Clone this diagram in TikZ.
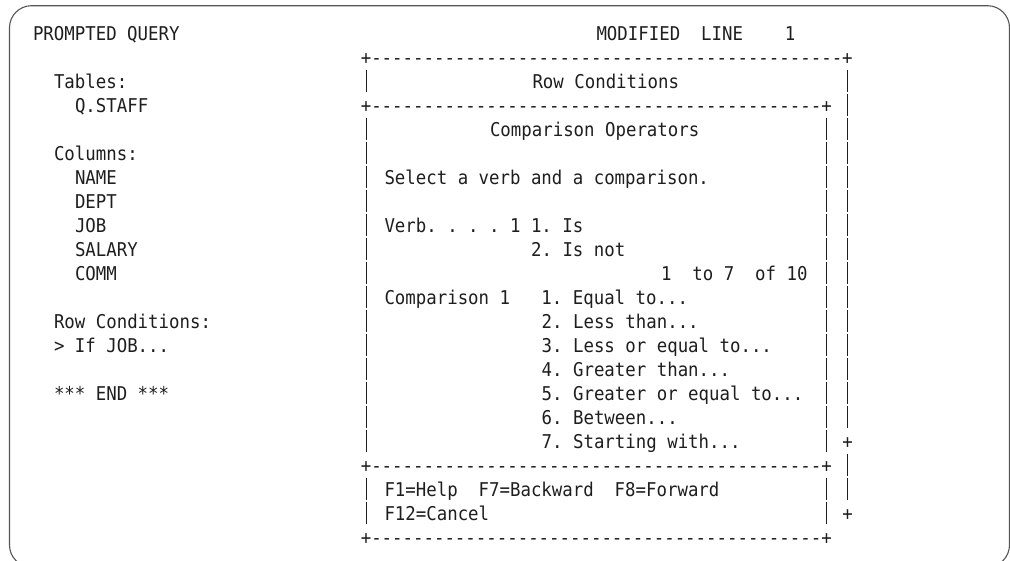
\documentclass[tikz,border=0pt]{standalone}
\usepackage{fontspec}
\setmonofont{DejaVu Sans Mono}[FakeStretch=0.915]
\definecolor{scrink}{HTML}{1E1E1E}
\definecolor{frameink}{HTML}{555555}
\tikzset{
  scr/.style={anchor=base west, inner sep=0pt, outer sep=0pt, text=scrink,
    font=\ttfamily\fontsize{19}{24}\selectfont},
  bar/.style={draw=scrink, line width=1pt},
  screenframe/.style={draw=frameink, line width=1.1pt, rounded corners=22pt},
}

\begin{document}
\frenchspacing
\begin{tikzpicture}[x=1pt, y=-1pt]
        \useasboundingbox (0,0) rectangle (1010,560);
        \draw[screenframe] (9.5,5.7) rectangle (1009.5,567);

        \node[scr] (title) at (33,40) {PROMPTED QUERY};
        \node[scr] (mode) at (596.5,40) {MODIFIED~~LINE~~~~1};

        \node[scr] (tables) at (54,88) {Tables:};
        \node[scr] (qstaff) at (75,112) {Q.STAFF};
        \node[scr] (columns) at (54,160) {Columns:};
        \node[scr] (cname) at (75,184) {NAME};
        \node[scr] (cdept) at (75,208) {DEPT};
        \node[scr] (cjob) at (75,232) {JOB};
        \node[scr] (csalary) at (75,256) {SALARY};
        \node[scr] (ccomm) at (75,280) {COMM};
        \node[scr] (rowcond) at (54,328) {Row Conditions:};
        \node[scr] (ifjob) at (54,352) {> If JOB...};
        \node[scr] (endmark) at (54,400) {*** END ***};

        \node[scr] (topline) at (360.8,64) {+---------------------------------------------+};
        \node[scr] (midline) at (360.8,112) {+-------------------------------------------+};
        \node[scr] (sepline) at (360.8,472) {+-------------------------------------------+};
        \node[scr] (botline) at (360.8,544) {+-------------------------------------------+};
        \node[scr] (more1) at (842.4,448) {+};
        \node[scr] (more2) at (842.4,520) {+};

        \node[scr] (ptitle) at (532.5,88) {Row Conditions};
        \node[scr] (optitle) at (490,136) {Comparison Operators};
        \node[scr] (prompt) at (384.5,184) {Select a verb and a comparison.};
        \node[scr] (verb) at (384.5,232) {Verb. . . . 1 1. Is};
        \node[scr] (isnot) at (531.1,256) {2. Is not};
        \node[scr] (count) at (661,280) {1~~to~7~~of~10};
        \node[scr] (comp) at (384.5,304) {Comparison~1~~~1.~Equal~to...};
        \node[scr] (op2) at (541.7,328) {2. Less than...};
        \node[scr] (op3) at (541.7,352) {3. Less or equal to...};
        \node[scr] (op4) at (541.7,376) {4. Greater than...};
        \node[scr] (op5) at (541.7,400) {5. Greater or equal to...};
        \node[scr] (op6) at (541.7,424) {6. Between...};
        \node[scr] (op7) at (541.7,448) {7. Starting with...};
        \node[scr] (keys1) at (384.5,496) {F1=Help~~F7=Backward~~F8=Forward};
        \node[scr] (keys2) at (384.5,520) {F12=Cancel};

        \foreach \r in {3,5,6,...,18,20,21}
          \draw[bar] (366,{33+24*(\r-1)-11}) -- ++(0,22);
        \foreach \r in {5,6,...,18,20,21}
          \draw[bar] (826.5,{33+24*(\r-1)-11}) -- ++(0,22);
        \foreach \r in {3,4,...,17,19,20}
          \draw[bar] (847.5,{33+24*(\r-1)-11}) -- ++(0,22);
\end{tikzpicture}
\end{document}
